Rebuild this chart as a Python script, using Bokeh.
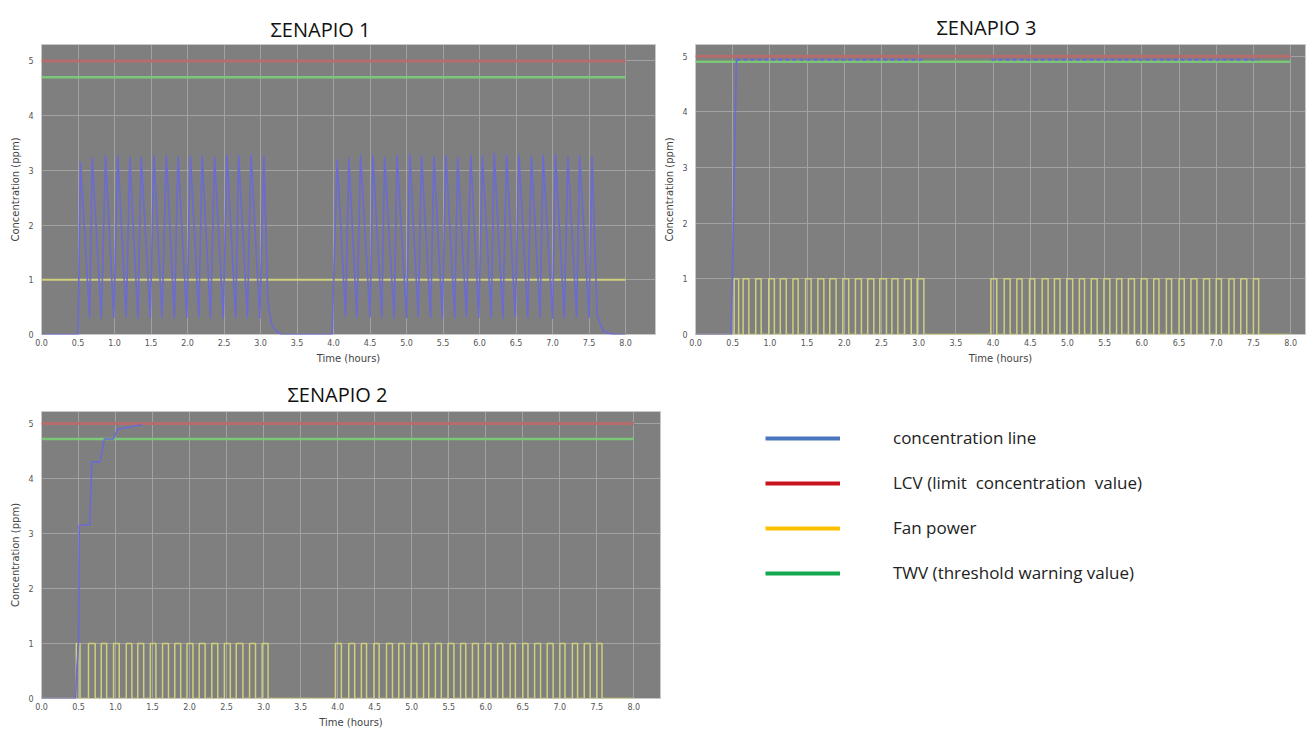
from bokeh.plotting import figure
from bokeh.models import Range1d, FixedTicker, Legend, LegendItem, NumeralTickFormatter
from bokeh.layouts import column, row
from bokeh.embed import file_html
from bokeh.resources import INLINE

# ---------------- data ----------------
x_ticks = [0.0, 0.5, 1.0, 1.5, 2.0, 2.5, 3.0, 3.5, 4.0, 4.5, 5.0, 5.5, 6.0, 6.5, 7.0, 7.5, 8.0]
y_ticks = [0, 1, 2, 3, 4, 5]
T_START = 0.0
T_END = 8.0
LCV = 5.0
TWV_1 = 4.7
TWV_2 = 4.72
TWV_3 = 4.9
FAN_1 = 1.0

titles = ["ΣΕΝΑΡΙΟ 1", "ΣΕΝΑΡΙΟ 3", "ΣΕΝΑΡΙΟ 2"]
x_label = "Time (hours)"
y_label = "Concentration (ppm)"

# Scenario 1 concentration: peaks and troughs of the oscillation
s1_peak_t = [0.534, 0.694, 0.877, 1.045, 1.21, 1.365, 1.54, 1.71, 1.87, 2.04, 2.20, 2.37, 2.54, 2.70, 2.87, 3.045,
             4.05, 4.21, 4.37, 4.54, 4.70, 4.87, 5.045, 5.205, 5.375, 5.54, 5.70, 5.88, 6.04, 6.20, 6.37, 6.54,
             6.71, 6.87, 7.04, 7.21, 7.37, 7.54]
s1_peak_v = [3.15, 3.24, 3.28, 3.28, 3.25, 3.25, 3.28, 3.28, 3.26, 3.27, 3.28, 3.25, 3.29, 3.28, 3.29, 3.27,
             3.20, 3.23, 3.28, 3.28, 3.24, 3.28, 3.30, 3.28, 3.26, 3.28, 3.24, 3.28, 3.27, 3.32, 3.29, 3.28,
             3.26, 3.28, 3.29, 3.26, 3.28, 3.26]
s1_trough_t = [0.66, 0.82, 0.99, 1.16, 1.32, 1.49, 1.65, 1.82, 1.99, 2.155, 2.315, 2.49, 2.66, 2.82, 2.99,
               4.165, 4.32, 4.50, 4.66, 4.83, 5.0, 5.16, 5.33, 5.49, 5.66, 5.82, 5.99, 6.16, 6.32, 6.49, 6.66,
               6.83, 7.0, 7.16, 7.33, 7.50]
s1_trough_v = [0.30, 0.29, 0.30, 0.31, 0.29, 0.30, 0.30, 0.29, 0.30, 0.31, 0.30, 0.29, 0.30, 0.30, 0.29,
               0.32, 0.30, 0.31, 0.30, 0.29, 0.30, 0.31, 0.30, 0.29, 0.30, 0.31, 0.30, 0.30, 0.29, 0.31, 0.30,
               0.30, 0.29, 0.30, 0.31, 0.30]
s1_base_t = [0.0, 0.50, 3.10, 3.15, 3.22, 3.30, 3.98, 7.61, 7.70, 7.84, 8.0]
s1_base_v = [0.0, 0.0, 0.60, 0.20, 0.05, 0.0, 0.0, 0.35, 0.05, 0.0, 0.0]

# Scenario 2 concentration (step rise)
s2_conc_t = [0.0, 0.46, 0.48, 0.50, 0.51, 0.65, 0.68, 0.79, 0.85, 0.97, 1.03, 1.15, 1.36]
s2_conc_v = [0.0, 0.0, 0.60, 1.00, 3.15, 3.15, 4.30, 4.30, 4.72, 4.72, 4.90, 4.93, 4.98]

# Scenario 3 concentration (fast rise then plateau)
s3_rise_t = [0.0, 0.48, 0.55]
s3_rise_v = [0.0, 0.0, 4.94]
s3_plateau_start = [0.55, 3.98]
s3_plateau_end = [3.08, 7.57]
s3_plateau_v = 4.94

# Fan on/off switching times (hours)
fan2_on = [0.47, 0.635, 0.807, 0.973, 1.145, 1.30, 1.47, 1.635, 1.80, 1.965, 2.13, 2.30, 2.47, 2.63, 2.81, 2.98,
           3.97, 4.15, 4.32, 4.49, 4.66, 4.825, 4.99, 5.16, 5.32, 5.49, 5.66, 5.82, 5.99, 6.16, 6.33, 6.50,
           6.66, 6.83, 7.0, 7.17, 7.33, 7.50]
fan2_off = [0.52, 0.725, 0.88, 1.05, 1.22, 1.38, 1.545, 1.715, 1.88, 2.045, 2.21, 2.38, 2.55, 2.72, 2.89, 3.06,
            4.05, 4.23, 4.39, 4.56, 4.74, 4.90, 5.07, 5.23, 5.40, 5.57, 5.73, 5.90, 6.07, 6.23, 6.40, 6.57,
            6.74, 6.91, 7.07, 7.24, 7.41, 7.57]
fan3_on = [0.52, 0.64, 0.81, 0.985, 1.14, 1.31, 1.48, 1.645, 1.805, 1.98, 2.15, 2.315, 2.477, 2.64, 2.81, 2.98,
           3.97, 4.15, 4.32, 4.49, 4.66, 4.825, 4.99, 5.16, 5.32, 5.49, 5.66, 5.82, 5.99, 6.16, 6.33, 6.50,
           6.66, 6.83, 7.0, 7.17, 7.33, 7.50]
fan3_off = [0.58, 0.717, 0.883, 1.06, 1.22, 1.38, 1.555, 1.725, 1.89, 2.06, 2.23, 2.397, 2.567, 2.72, 2.90, 3.07,
            4.05, 4.23, 4.39, 4.56, 4.74, 4.90, 5.07, 5.23, 5.40, 5.57, 5.73, 5.90, 6.07, 6.23, 6.40, 6.57,
            6.74, 6.91, 7.07, 7.24, 7.41, 7.57]

legend_labels = ["concentration line", "LCV (limit  concentration  value)", "Fan power",
                 "TWV (threshold warning value)"]
legend_colors = ["#4a76bd", "#c8141e", "#ffc000", "#13a84c"]

# ---------------- styles ----------------
BG = "#7f7f7f"
GRID = "#a2a2a2"
C_BLUE = "#6b6bd2"
C_RED = "#b46c6c"
C_GREEN = "#7cc67a"
C_YEL = "#cfcf7c"
FONT = "Open Sans"
TICK_FONT = "DejaVu Sans"


def fan_steps(on, off):
    t = [T_START]
    v = [0.0]
    for a, b in zip(on, off):
        t += [a, a, b, b]
        v += [0.0, 1.0, 1.0, 0.0]
    t.append(T_END)
    v.append(0.0)
    return t, v


def panel(title, width, height, bl, br, bt, bb, x_end, y_end, t_off, t_stand):
    p = figure(width=width, height=height, x_range=Range1d(0, x_end), y_range=Range1d(0, y_end),
               toolbar_location=None, output_backend="svg", title=title,
               min_border_left=bl, min_border_right=br, min_border_top=bt, min_border_bottom=bb)
    p.background_fill_color = BG
    p.border_fill_color = "white"
    p.outline_line_color = "#c8c8c8"
    p.title.align = "left"
    p.title.offset = t_off
    p.title.text_font = FONT
    p.title.text_font_size = "20px"
    p.title.text_font_style = "normal"
    p.title.text_color = "#111111"
    p.title.standoff = t_stand
    p.xaxis.ticker = FixedTicker(ticks=x_ticks)
    p.yaxis.ticker = FixedTicker(ticks=y_ticks)
    p.xaxis.formatter = NumeralTickFormatter(format="0.0")
    p.yaxis.formatter = NumeralTickFormatter(format="0")
    for ax in (p.xaxis, p.yaxis):
        ax.axis_line_color = None
        ax.major_tick_line_color = None
        ax.minor_tick_line_color = None
        ax.major_tick_out = 0
        ax.major_tick_in = 0
        ax.minor_tick_out = 0
        ax.minor_tick_in = 0
        ax.major_label_text_font = TICK_FONT
        ax.major_label_text_font_size = "8px"
        ax.major_label_text_color = "#555555"
        ax.axis_label_text_font = TICK_FONT
        ax.axis_label_text_font_size = "10px"
        ax.axis_label_text_font_style = "normal"
        ax.axis_label_text_color = "#444444"
        ax.axis_label_standoff = 4
    p.xaxis.major_label_standoff = 4
    p.yaxis.major_label_standoff = 8
    p.xaxis.axis_label = x_label
    p.yaxis.axis_label = y_label
    p.xgrid.grid_line_color = GRID
    p.ygrid.grid_line_color = GRID
    p.xgrid.grid_line_width = 1
    p.ygrid.grid_line_width = 1
    return p


# ---------------- Scenario 1 ----------------
p1 = panel(titles[0], 658, 370, 41, 3, 44, 36, 8.41, 5.3, 229, 3)
p1.line([T_START, T_END], [LCV, LCV], line_color=C_RED, line_width=3)
p1.line([T_START, T_END], [TWV_1, TWV_1], line_color=C_GREEN, line_width=2.5)
p1.line([T_START, T_END], [FAN_1, FAN_1], line_color=C_YEL, line_width=2)
pts = sorted(list(zip(s1_base_t, s1_base_v)) + list(zip(s1_peak_t, s1_peak_v)) +
             list(zip(s1_trough_t, s1_trough_v)))
p1.line([a for a, _ in pts], [b for _, b in pts], line_color=C_BLUE, line_width=1.6)

# ---------------- Scenario 3 ----------------
p3 = panel(titles[1], 648, 370, 37, 1, 44, 36, 8.2, 5.21, 241, 7)
p3.line([T_START, T_END], [LCV, LCV], line_color=C_RED, line_width=3)
p3.line([T_START, T_END], [TWV_3, TWV_3], line_color=C_GREEN, line_width=2.5)
f3t, f3v = fan_steps(fan3_on, fan3_off)
p3.line(f3t, f3v, line_color=C_YEL, line_width=1.5)
p3.line(s3_rise_t, s3_rise_v, line_color=C_BLUE, line_width=1.6)
p3.multi_line([[a, b] for a, b in zip(s3_plateau_start, s3_plateau_end)],
              [[s3_plateau_v, s3_plateau_v] for _ in s3_plateau_start],
              line_color=C_BLUE, line_width=2.2, line_dash="4 3")

# ---------------- Scenario 2 ----------------
p2 = panel(titles[2], 662, 361, 41, 2, 41, 33, 8.36, 5.22, 246, 8)
p2.line([T_START, T_END], [LCV, LCV], line_color=C_RED, line_width=3)
p2.line([T_START, T_END], [TWV_2, TWV_2], line_color=C_GREEN, line_width=2.5)
f2t, f2v = fan_steps(fan2_on, fan2_off)
p2.line(f2t, f2v, line_color=C_YEL, line_width=1.5)
p2.line(s2_conc_t, s2_conc_v, line_color=C_BLUE, line_width=1.6)

# ---------------- Legend panel ----------------
pl = figure(width=644, height=361, x_range=Range1d(0, 1), y_range=Range1d(0, 1),
            x_axis_type=None, y_axis_type=None, toolbar_location=None, output_backend="svg",
            min_border=0)
pl.outline_line_color = None
pl.grid.visible = False
nan = float("nan")
rs = [pl.line(x=[nan], y=[nan], line_color=c, line_width=4) for c in legend_colors]
leg = Legend(items=[LegendItem(label=l, renderers=[r]) for l, r in zip(legend_labels, rs)],
             location=(103, 114), glyph_width=75, glyph_height=22, label_height=22,
             label_standoff=53, spacing=22, padding=0, margin=0,
             border_line_color=None, background_fill_alpha=0,
             label_text_font=FONT, label_text_font_size="17px", label_text_color="#222222")
pl.add_layout(leg)

layout = column(row(p1, p3), row(p2, pl))
open("out.html", "w").write(file_html(layout, INLINE))
